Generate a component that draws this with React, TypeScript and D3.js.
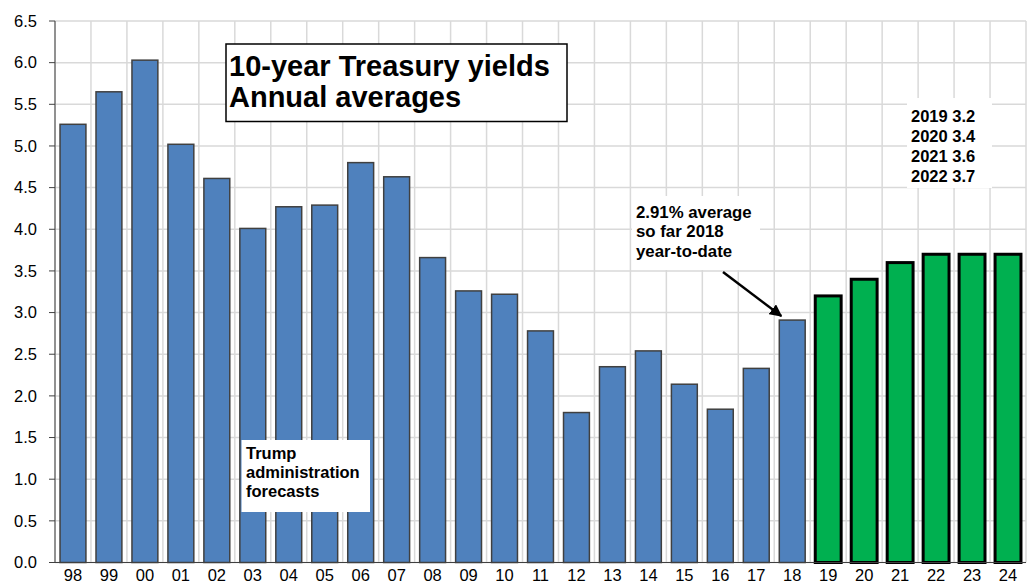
import React from "react";
import * as d3 from "d3";

const years = ["98","99","00","01","02","03","04","05","06","07","08","09","10","11","12","13","14","15","16","17","18","19","20","21","22","23","24"];
const actual = [5.26,5.65,6.03,5.02,4.61,4.01,4.27,4.29,4.80,4.63,3.66,3.26,3.22,2.78,1.80,2.35,2.54,2.14,1.84,2.33,2.91];
const forecast = [3.2,3.4,3.6,3.7,3.7,3.7];
const yTicks = [0,0.5,1,1.5,2,2.5,3,3.5,4,4.5,5,5.5,6,6.5];
const titleLines = ["10-year Treasury yields","Annual averages"];
const ytdLines = ["2.91% average","so far 2018","year-to-date"];
const fcLines = ["2019 3.2","2020 3.4","2021 3.6","2022 3.7"];
const trumpLines = ["Trump","administration","forecasts"];

export default function App() {
  const W = 1032, H = 584;
  const left = 55, right = 1026, top = 21, bottom = 562.5;
  const x = d3.scaleBand<string>().domain(years).range([left, right]).paddingInner(0.28).paddingOuter(0.14);
  const y = d3.scaleLinear().domain([0, 6.5]).range([bottom, top]);
  const step = x.step();
  const bounds = d3.range(years.length + 1).map(i => left + i * step);
  const data = years.map((yr, i) => ({ yr, v: i < actual.length ? actual[i] : forecast[i - actual.length], fc: i >= actual.length }));
  const font = "'Liberation Sans', Arial, sans-serif";
  const bar18 = x("18")! + x.bandwidth() / 2;
  return (
    <svg width={W} height={H} style={{ position: "absolute", left: 0, top: 0, background: "#fff" }} fontFamily={font}>
      <defs>
        <marker id="ah" viewBox="0 0 10 10" refX="9" refY="5" markerWidth="5" markerHeight="5" orient="auto">
          <path d="M0,0 L10,5 L0,10 z" fill="#000" />
        </marker>
      </defs>
      {yTicks.map(t => (
        <line key={"h" + t} x1={left} x2={right} y1={y(t)} y2={y(t)} stroke="#d9d9d9" strokeWidth={1.5} />
      ))}
      {bounds.map((b, i) => (
        <line key={"v" + i} x1={b} x2={b} y1={top} y2={bottom} stroke="#d9d9d9" strokeWidth={1.5} />
      ))}
      {data.map(d => (
        <rect key={d.yr} x={x(d.yr)} y={y(d.v)} width={x.bandwidth()} height={bottom - y(d.v)}
          fill={d.fc ? "#00b050" : "#4f81bd"} stroke={d.fc ? "#000" : "#404040"} strokeWidth={d.fc ? 3 : 1.5} />
      ))}
      <line x1={left} x2={left} y1={top} y2={bottom} stroke="#404040" strokeWidth={1} />
      <line x1={left} x2={right} y1={bottom} y2={bottom} stroke="#404040" strokeWidth={1} />
      {yTicks.map(t => (
        <g key={"t" + t}>
          <line x1={left - 6} x2={left} y1={y(t)} y2={y(t)} stroke="#404040" />
          <text x={37} y={y(t)} dy="0.35em" textAnchor="end" fontSize={16.5} fill="#000">{t.toFixed(1)}</text>
        </g>
      ))}
      {years.map(yr => (
        <text key={"x" + yr} x={x(yr)! + x.bandwidth() / 2} y={581} textAnchor="middle" fontSize={16.5} fill="#000">{yr}</text>
      ))}
      <rect x={226} y={44} width={341} height={77.5} fill="#fff" stroke="#000" strokeWidth={1.5} />
      {titleLines.map((l, i) => (
        <text key={l} x={229} y={75.5 + i * 31.5} fontSize={29} fontWeight="bold" fill="#000">{l}</text>
      ))}
      <rect x={632} y={196} width={128} height={74} fill="#fff" />
      {ytdLines.map((l, i) => (
        <text key={l} x={636} y={217.5 + i * 19.5} fontSize={16.8} fontWeight="bold" fill="#000">{l}</text>
      ))}
      <line x1={723} y1={272} x2={bar18 - 11} y2={y(2.91) - 4} stroke="#000" strokeWidth={2.5} markerEnd="url(#ah)" />
      <rect x={907} y={98} width={85} height={90} fill="#fff" />
      {fcLines.map((l, i) => (
        <text key={l} x={911} y={122 + i * 20} fontSize={16.5} fontWeight="bold" fill="#000">{l}</text>
      ))}
      <rect x={241.5} y={440} width={128.5} height={72} fill="#fff" />
      {trumpLines.map((l, i) => (
        <text key={l} x={246} y={458.5 + i * 19.3} fontSize={16.5} fontWeight="bold" fill="#000">{l}</text>
      ))}
    </svg>
  );
}
